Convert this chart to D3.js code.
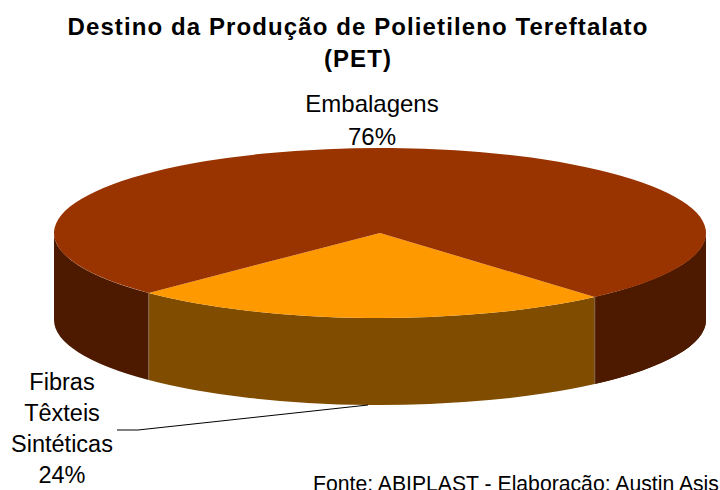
<!DOCTYPE html>
<html><head><meta charset="utf-8">
<script src="https://cdnjs.cloudflare.com/ajax/libs/d3/7.8.5/d3.min.js"></script>
<style>html,body{margin:0;padding:0;background:#fff;overflow:hidden}svg{display:block}text{font-family:"Liberation Sans",Arial,sans-serif;fill:#000}</style>
</head><body><svg id="c" width="720" height="490"></svg>
<script>
const categories = ["Fibras Têxteis Sintéticas", "Embalagens"];
const values = [24, 76];
const topColors = ["#ff9900", "#993300"];
const sideColors = ["#804d00", "#4d1a00"];
const titleLines = ["Destino da Produção de Polietileno Tereftalato", "(PET)"];
const source = "Fonte: ABIPLAST - Elaboração: Austin Asis";

const svg = d3.select("#c");
const cx = 380, cy = 233, rx = 326, ry = 85, depth = 87;
const deg = Math.PI / 180, start = 138.8 * deg;
const pie = d3.pie().sort(null).startAngle(start).endAngle(start + 2 * Math.PI);
const arcs = pie(values);
const px = a => cx + rx * Math.sin(a), py = a => cy - ry * Math.cos(a);

// side walls: only the front half of the ellipse (90deg..270deg) is visible
const front = [Math.PI / 2, 3 * Math.PI / 2];
function wall(a0, a1) {
  return `M${px(a0)},${py(a0)}A${rx},${ry} 0 0 1 ${px(a1)},${py(a1)}L${px(a1)},${py(a1)+depth}A${rx},${ry} 0 0 0 ${px(a0)},${py(a0)+depth}Z`;
}
const walls = [];
arcs.forEach((d, i) => {
  [0, 2 * Math.PI].forEach(o => {
    const a0 = Math.max(d.startAngle, front[0] + o), a1 = Math.min(d.endAngle, front[1] + o);
    if (a1 > a0) walls.push({a0, a1, i});
  });
  // part of the large slice that wraps before the start angle
  const a0 = Math.max(d.startAngle - 2 * Math.PI, front[0]), a1 = Math.min(d.endAngle - 2 * Math.PI, front[1]);
  if (a1 > a0) walls.push({a0, a1, i});
});
svg.append("g").selectAll("path").data(walls).join("path")
  .attr("d", d => wall(d.a0, d.a1))
  .attr("fill", d => sideColors[d.i]);
// seams between the wall segments
svg.append("g").selectAll("line").data([arcs[0].startAngle, arcs[0].endAngle]).join("line")
  .attr("x1", a => px(a)).attr("x2", a => px(a))
  .attr("y1", a => py(a)).attr("y2", a => py(a) + depth)
  .attr("stroke", "#8a6a4a").attr("stroke-width", 1);

const arc = d3.arc().innerRadius(0).outerRadius(rx);
svg.append("g").attr("transform", `translate(${cx},${cy}) scale(1,${ry / rx})`)
  .selectAll("path").data(arcs).join("path")
  .attr("d", arc).attr("fill", (d, i) => topColors[i]);

// title
svg.append("g").selectAll("text").data(titleLines).join("text")
  .attr("x", 358).attr("y", (d, i) => 35 + i * 32)
  .attr("text-anchor", "middle").attr("font-size", 24).attr("font-weight", "bold")
  .attr("letter-spacing", 1.1).text(d => d);

// data labels
const labelA = [categories[1], values[1] + "%"];
svg.append("g").selectAll("text").data(labelA).join("text")
  .attr("x", 372).attr("y", (d, i) => 112 + i * 33)
  .attr("text-anchor", "middle").attr("font-size", 24).text(d => d);
const labelB = ["Fibras", "Têxteis", "Sintéticas", values[0] + "%"];
svg.append("g").selectAll("text").data(labelB).join("text")
  .attr("x", 62).attr("y", (d, i) => 390 + i * 31)
  .attr("text-anchor", "middle").attr("font-size", 23.5).text(d => d);

// leader line
svg.append("polyline").attr("points", "117,430 138,430 368,405")
  .attr("fill", "none").attr("stroke", "#000").attr("stroke-width", 1);

svg.append("text").attr("x", 313).attr("y", 491).attr("font-size", 21.2).text(source);
</script></body></html>
